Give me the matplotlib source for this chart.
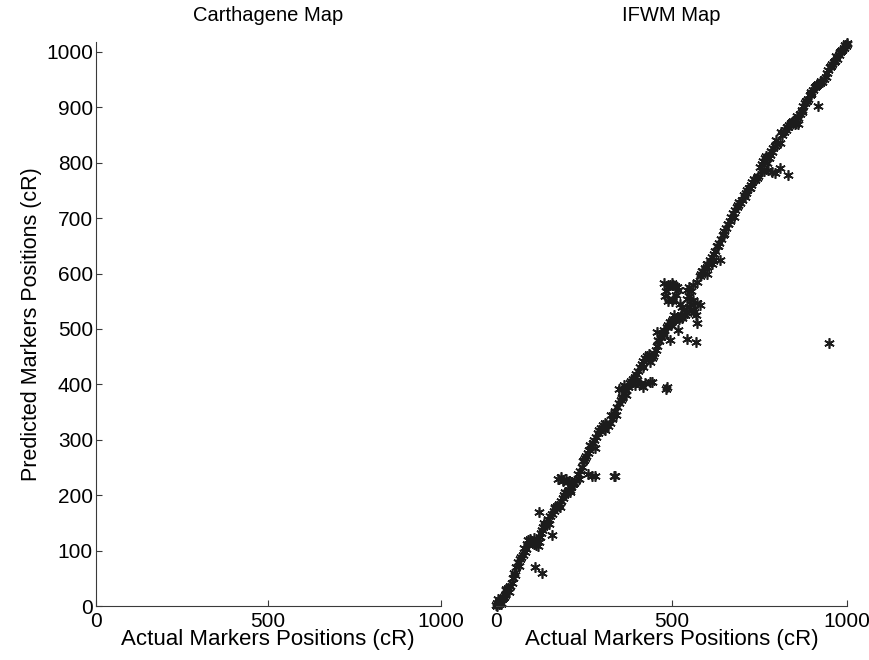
import matplotlib
matplotlib.use("Agg")
import matplotlib.pyplot as plt

plt.rcParams['font.family'] = ['Liberation Sans', 'DejaVu Sans']

# Marker positions along the chromosome: actual (x) vs. predicted (y), in cR
ifwm_actual = [
    0, 3, 5, 8, 10, 13, 15, 18, 20, 23, 26, 30, 35, 40, 45, 49, 54, 58, 63, 68,
    72, 78, 83, 87, 90, 93, 97, 100, 105, 110, 115, 120, 122, 125, 128, 131, 135,
    140, 145, 150, 155, 160, 165, 170, 175, 180, 185, 190, 195, 200, 205, 210,
    215, 220, 178, 185, 192, 200, 208, 215, 222, 228, 235, 240, 245, 248, 252,
    258, 262, 266, 270, 276, 280, 285, 290, 295, 300, 305, 310, 315, 320, 325,
    330, 335, 340, 345, 350, 355, 360, 365, 370, 375, 381, 386, 390, 395, 400,
    405, 410, 415, 420, 425, 430, 435, 440, 445, 450, 455, 460, 465, 470, 475,
    480, 486, 490, 495, 500, 505, 510, 515, 520, 525, 530, 481, 485, 490, 495,
    500, 505, 510, 515, 518, 512, 505, 500, 490, 523, 530, 535, 540, 545, 550,
    555, 560, 565, 570, 572, 545, 550, 555, 543, 550, 560, 572, 580, 585, 590,
    595, 600, 605, 610, 615, 620, 625, 630, 635, 640, 646, 650, 655, 660, 665,
    670, 674, 680, 685, 690, 695, 700, 708, 712, 716, 720, 725, 730, 737, 742,
    745, 752, 756, 760, 765, 771, 776, 780, 785, 790, 795, 800, 808, 815, 820,
    825, 830, 835, 840, 845, 850, 855, 860, 865, 870, 875, 880, 885, 888, 893,
    898, 903, 908, 913, 918, 923, 928, 933, 941, 946, 951, 956, 961, 966, 970,
    975, 980, 985, 990, 995, 998, 1000,
    # second pass along the line, slightly off-centre, widening the band
    6, 16, 28, 38, 52, 66, 80, 108, 138, 152, 168, 182, 198, 212, 238, 255,
    268, 283, 298, 312, 328, 342, 358, 372, 388, 402, 418, 432, 448, 462, 478,
    498, 508, 528, 538, 562, 588, 602, 618, 632, 648, 662, 678, 692, 706, 722,
    734, 758, 768, 782, 798, 812, 828, 842, 858, 872, 882, 896, 910, 926, 938,
    954, 968, 982, 994,
    # short horizontal runs beside the line
    360, 375, 395, 410, 425, 445, 190, 205, 218,
    # scattered markers off the main line
    123, 111, 131, 159, 338, 262, 282, 273, 336, 350, 484, 438, 486, 458, 495,
    543, 569, 572, 518, 478, 580, 637, 793, 831, 808, 916, 947, 762, 775, 785,
    365, 420, 600, 615, 860,
]
ifwm_predicted = [
    2, 0, 5, 3, 8, 10, 6, 12, 14, 17, 20, 28, 33, 36, 42, 50, 56, 70, 80, 85,
    88, 92, 98, 102, 112, 119, 121, 118, 115, 112, 110, 108, 115, 125, 132, 137,
    142, 146, 150, 157, 162, 166, 172, 176, 180, 185, 190, 195, 200, 204, 208,
    210, 215, 220, 230, 232, 228, 230, 226, 224, 222, 228, 238, 243, 250, 262,
    264, 270, 276, 282, 288, 294, 300, 305, 312, 318, 322, 326, 330, 328, 325,
    330, 338, 345, 352, 360, 366, 372, 378, 384, 390, 396, 402, 407, 410, 414,
    418, 425, 431, 436, 442, 447, 452, 455, 440, 448, 456, 462, 470, 478, 485,
    492, 498, 503, 507, 512, 515, 518, 517, 520, 518, 522, 520, 560, 568, 575,
    580, 583, 580, 578, 575, 570, 562, 555, 550, 550, 545, 540, 535, 530, 528,
    540, 545, 535, 530, 525, 547, 555, 560, 568, 570, 575, 580, 585, 595, 600,
    605, 610, 612, 617, 625, 630, 635, 640, 650, 655, 662, 670, 677, 682, 690,
    695, 702, 709, 715, 720, 724, 728, 732, 738, 745, 750, 755, 760, 765, 769,
    772, 776, 792, 798, 803, 808, 800, 808, 814, 820, 826, 830, 834, 836, 850,
    855, 860, 865, 868, 872, 876, 870, 872, 880, 888, 895, 902, 908, 912, 915,
    922, 928, 932, 936, 940, 942, 944, 946, 952, 962, 968, 973, 978, 981, 984,
    988, 994, 1000, 1004, 1008, 1011, 1014, 1016,
    12, 4, 30, 25, 60, 72, 104, 122, 150, 148, 178, 178, 206, 205, 230, 268,
    290, 285, 315, 318, 345, 345, 375, 381, 405, 408, 432, 448, 452, 480, 490,
    508, 525, 525, 525, 552, 605, 618, 622, 650, 672, 690, 702, 730, 742, 755,
    770, 785, 812, 822, 842, 855, 865, 874, 884, 892, 912, 925, 938, 948, 955,
    975, 992, 1002, 1012,
    392, 395, 398, 400, 403, 405, 225, 224, 221,
    170, 70, 60, 128, 235, 238, 235, 235, 235, 392, 392, 404, 395, 495, 480,
    482, 477, 511, 498, 583, 543, 625, 781, 778, 791, 903, 475, 785, 787, 783,
    398, 395, 600, 618, 870,
]

axis_ticks_x = [0, 500, 1000]
axis_ticks_y = [0, 100, 200, 300, 400, 500, 600, 700, 800, 900, 1000]
panel_titles = ["Carthagene Map", "IFWM Map"]
x_label = "Actual Markers Positions (cR)"
y_label = "Predicted Markers Positions (cR)"

fig = plt.figure(figsize=(8.69, 6.6), dpi=100)
ax_left = fig.add_axes([95.7 / 869, 54 / 660, 345 / 869, 564 / 660])
ax_right = fig.add_axes([495.7 / 869, 54 / 660, 351.6 / 869, 564 / 660])

spine_color = "#3a3a3a"
for ax in (ax_left, ax_right):
    ax.set_xlim(0, 1000)
    ax.set_ylim(0, 1018)
    ax.set_xticks(axis_ticks_x)
    ax.set_yticks(axis_ticks_y)
    ax.tick_params(direction="in", length=4, width=0.8, color=spine_color,
                   labelsize=15)
    ax.tick_params(axis="x", pad=4)
    ax.tick_params(axis="y", pad=2)
    ax.spines["top"].set_visible(False)
    ax.spines["right"].set_visible(False)
    for s in ("left", "bottom"):
        ax.spines[s].set_color(spine_color)
        ax.spines[s].set_linewidth(0.8)
    ax.set_xlabel(x_label, fontsize=16, labelpad=-1)

ax_left.set_ylabel(y_label, fontsize=15.5, labelpad=3)
ax_left.set_title(panel_titles[0], fontsize=14.5, pad=15)

ax_right.spines["left"].set_visible(False)
ax_right.tick_params(axis="y", left=False, labelleft=False)
ax_right.set_title(panel_titles[1], fontsize=14.5, pad=15)

ax_right.plot(ifwm_actual, ifwm_predicted, linestyle="none",
              marker=(6, 2, 0), markersize=7.5, markeredgewidth=1.2,
              color="#1c1c1c", clip_on=False)

fig.savefig("out.png", dpi=100)
